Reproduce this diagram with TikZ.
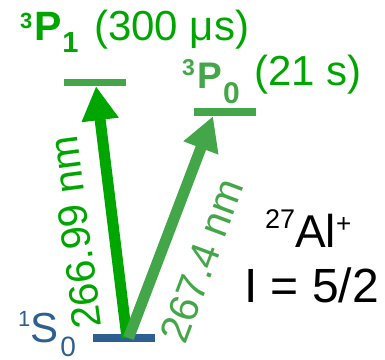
\documentclass[tikz,border=0pt]{standalone}
\usepackage{fontspec}
\setmainfont{Liberation Sans}
\usetikzlibrary{arrows.meta}
\definecolor{dkgreen}{RGB}{0,166,0}
\definecolor{ltgreen}{RGB}{67,166,72}
\definecolor{lvblue}{RGB}{45,95,145}
\newcommand\fsz[1]{\fontsize{#1}{#1}\selectfont}
\begin{document}
\begin{tikzpicture}[x=1pt,y=-1pt,
  level/.style={rectangle,inner sep=0pt,minimum width=62pt,minimum height=#1,draw=none},
  txt/.style={inner sep=0pt,anchor=base west},
  trans/.style={line width=11pt,-{Triangle[length=34pt,width=35pt]}}]
\useasboundingbox (0,0) rectangle (385,359);
% levels
\node[level=8pt,fill=lvblue] (s0) at (124,338) {};
\node[level=7pt,fill=ltgreen] (p1) at (95,82.5) {};
\node[level=8pt,fill=ltgreen] (p0) at (225,112) {};
% transitions
\draw[trans,draw=dkgreen,fill=dkgreen] ([xshift=3pt]s0.center) -- ([xshift=1pt]p1.south);
\draw[trans,draw=ltgreen,fill=ltgreen] ([xshift=4.5pt]s0.center) -- ([xshift=-12pt]p0.south);
% level labels
\node[txt,text=dkgreen] (p1lab) at (20,40) {\bfseries\fsz{22}\raisebox{12pt}{3}\hspace{2.5pt}\fsz{41}P\fsz{29}\raisebox{-12pt}{1}};
\node[txt,text=dkgreen] (p1life) at (94,40) {\fsz{42}(300 μs)};
\node[txt,text=ltgreen] (p0lab) at (182,88) {\bfseries\fsz{23}\raisebox{13pt}{3}\hspace{2.5pt}\fsz{37}P\hspace{1pt}\fsz{30}\raisebox{-15pt}{0}};
\node[txt,text=dkgreen] (p0life) at (254,85) {\fsz{42}(21 s)};
\node[txt,text=lvblue] (s0lab) at (18,342) {\fsz{22}\raisebox{16pt}{1}\fsz{42}S\hspace{2pt}\fsz{28}\raisebox{-14pt}{0}};
% wavelengths
\node[txt,text=dkgreen,rotate=97.5] (w1) at (102,327) {\fsz{41}266.99 nm};
\node[txt,text=ltgreen,rotate=69.5] (w2) at (185,346) {\fsz{41}267.4 nm};
% ion
\node[txt] (ion) at (265,247) {\fsz{27}\raisebox{19pt}{27}\fsz{46}Al\fsz{26}\raisebox{15pt}{+}};
\node[txt] (spin) at (244,302) {\fsz{48}I = 5/2};
\end{tikzpicture}
\end{document}
